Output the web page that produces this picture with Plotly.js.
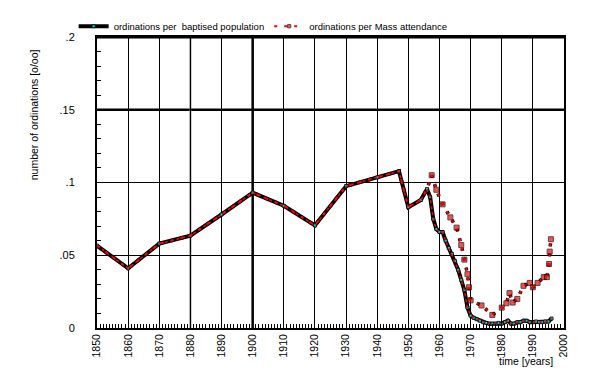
<!DOCTYPE html>
<html><head><meta charset="utf-8">
<script src="https://cdn.plot.ly/plotly-3.0.1.min.js"></script>
<style>html,body{margin:0;padding:0;background:#fff}#c{width:600px;height:384px}</style>
</head><body><div id="c"></div>
<script>
// series 1: ordinations per baptised population
const years1 = [1850,1860,1870,1880,1890,1900,1910,1920,1930,1940,1947,1950,1954,1956,1957,1958,1959,1960,1961,1962,1963,1964,1965,1966,1967,1968,1969,1970,1971,1972,1973,1974,1975,1976,1977,1978,1979,1980,1981,1982,1983,1984,1985,1986,1987,1988,1989,1990,1991,1992,1993,1994,1995,1996];
const vals1 = [0.0566,0.041,0.058,0.0635,0.078,0.093,0.084,0.0705,0.0975,0.1035,0.1078,0.083,0.088,0.0955,0.090,0.075,0.068,0.066,0.066,0.060,0.055,0.051,0.046,0.040,0.033,0.026,0.014,0.0085,0.007,0.006,0.005,0.004,0.0035,0.003,0.003,0.003,0.0035,0.003,0.004,0.005,0.003,0.003,0.004,0.004,0.005,0.005,0.004,0.004,0.0045,0.004,0.004,0.0045,0.0045,0.0065];
// series 2: ordinations per Mass attendance
const years2 = [1850,1860,1870,1880,1890,1900,1910,1920,1930,1940,1947,1950,1954,1956,1957.5,1959,1961,1963.5,1965.5,1967,1968,1969,1969.5,1970,1973.5,1977,1980,1981.5,1982.5,1983.5,1985,1987,1989,1990,1991.5,1993.5,1994.5,1995.2,1995.4,1995.8];
const vals2 = [0.0566,0.041,0.058,0.0635,0.078,0.093,0.084,0.0705,0.0975,0.1035,0.1078,0.083,0.088,0.0955,0.105,0.095,0.085,0.076,0.069,0.057,0.047,0.037,0.028,0.019,0.0155,0.009,0.014,0.017,0.024,0.0175,0.020,0.029,0.031,0.028,0.031,0.035,0.035,0.044,0.0525,0.061];
const name1 = "ordinations per  baptised population";
const name2 = "ordinations per Mass attendance";
const yTickVals = [0,0.05,0.1,0.15,0.2];
const yTickText = ["0",".05",".1",".15",".2"];
const xTickVals = [1850,1860,1870,1880,1890,1900,1910,1920,1930,1940,1950,1960,1970,1980,1990,2000];
const xTickText = xTickVals.map(String);

const F = "Liberation Sans, DejaVu Sans, sans-serif";
const s2sizes = years2.map(y => y > 1956 ? 5 : 0);
const traces = [
  {x: years2, y: vals2, mode:'lines', line:{color:'black', width:3.5, dash:'3px,7px'}, showlegend:false, hoverinfo:'skip'},
  {x: years1, y: vals1, mode:'lines+markers', name:name1, line:{color:'black', width:4},
   marker:{symbol:'square', size:3, color:'#00d0d0', line:{color:'black', width:0.8}}, legendgroup:'a'},
  {x: years1, y: vals1, mode:'lines', line:{color:'red', width:1.5, dash:'dot'}, showlegend:false, legendgroup:'a', hoverinfo:'skip'},
  {x: years2, y: vals2, mode:'lines+markers', name:name2, line:{color:'red', width:2, dash:'3px,7px'},
   marker:{symbol:'square', size:s2sizes, color:'red', line:{color:'black', width:1}}, legendgroup:'b'}
];
const layout = {
  width:600, height:384,
  margin:{l:97, r:36, t:31, b:56},
  paper_bgcolor:'white', plot_bgcolor:'white',
  font:{family:F, size:10, color:'black'},
  showlegend:true,
  legend:{orientation:'h', x:-0.05, y:1.037, xanchor:'left', yanchor:'middle',
    font:{family:F, size:9.5, color:'black'}, itemwidth:30, bgcolor:'rgba(0,0,0,0)', tracegroupgap:0},
  xaxis:{range:[1850,2000], tickvals:xTickVals, ticktext:xTickText, tickangle:-90,
    showgrid:true, gridcolor:'black', gridwidth:1, zeroline:false,
    showline:true, linecolor:'black', linewidth:2, mirror:true,
    ticks:'inside', ticklen:8, tickcolor:'black',
    minor:{dtick:1, ticks:'inside', ticklen:4, tickcolor:'black', showgrid:false},
    tickfont:{family:F, size:10.5}},
  yaxis:{range:[0,0.2], tickvals:yTickVals, ticktext:yTickText,
    showgrid:true, gridcolor:'black', gridwidth:1, zeroline:false,
    showline:true, linecolor:'black', linewidth:2, mirror:true,
    ticks:'inside', ticklen:8, tickcolor:'black', ticklabelstandoff:18,
    minor:{dtick:0.01, ticks:'inside', ticklen:4, tickcolor:'black', showgrid:false},
    tickfont:{family:F, size:11}},
  shapes:[
    {type:'line', xref:'paper', yref:'y', x0:0, x1:1, y0:0.15, y1:0.15, line:{color:'black', width:2.5}, layer:'below'},
    {type:'line', xref:'x', yref:'paper', x0:1900, x1:1900, y0:0, y1:1, line:{color:'black', width:2.5}, layer:'below'},
    {type:'line', xref:'x', yref:'paper', x0:1880, x1:1880, y0:0, y1:1, line:{color:'#888', width:2}, layer:'below'},
    {type:'line', xref:'paper', yref:'paper', x0:0, x1:1, y0:1, y1:1, line:{color:'black', width:3}}
  ],
  annotations:[
    {text:'number of ordinations [o/oo]', xref:'paper', yref:'paper', x:-0.133, y:0.734, textangle:-90,
      showarrow:false, font:{family:F, size:10.5}, xanchor:'center', yanchor:'middle'},
    {text:'time [years]', xref:'paper', yref:'paper', x:0.98, y:-0.115, showarrow:false,
      font:{family:F, size:10.5}, xanchor:'right', yanchor:'middle'}
  ]
};
Plotly.newPlot('c', traces, layout, {displayModeBar:false, staticPlot:true});
</script></body></html>
